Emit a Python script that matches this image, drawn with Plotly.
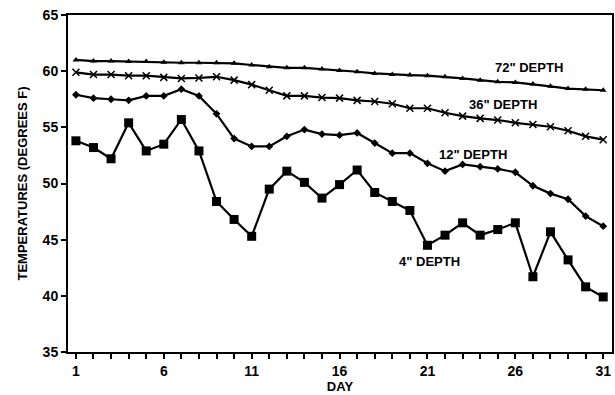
import plotly.graph_objects as go

days = list(range(1, 32))

depth_4 = [53.8, 53.2, 52.2, 55.4, 52.9, 53.5, 55.7, 52.9, 48.4, 46.8, 45.3, 49.5, 51.1, 50.1, 48.7, 49.9,
           51.2, 49.2, 48.4, 47.6, 44.5, 45.4, 46.5, 45.4, 45.9, 46.5, 41.7, 45.7, 43.2, 40.8, 39.9]
depth_12 = [57.9, 57.6, 57.5, 57.4, 57.8, 57.8, 58.4, 57.8, 56.2, 54.0, 53.3, 53.3, 54.2, 54.8, 54.4, 54.3,
            54.5, 53.6, 52.7, 52.7, 51.8, 51.1, 51.7, 51.5, 51.3, 51.0, 49.8, 49.1, 48.6, 47.1, 46.2]
depth_36 = [59.9, 59.7, 59.7, 59.6, 59.6, 59.45, 59.35, 59.4, 59.5, 59.2, 58.8, 58.3, 57.8, 57.8, 57.65, 57.6,
            57.4, 57.3, 57.1, 56.7, 56.7, 56.3, 56.0, 55.8, 55.65, 55.4, 55.25, 55.05, 54.7, 54.2, 53.9]
depth_72 = [61.0, 60.9, 60.9, 60.85, 60.85, 60.8, 60.75, 60.75, 60.75, 60.7, 60.55, 60.4, 60.3, 60.3, 60.2, 60.05,
            59.95, 59.8, 59.7, 59.65, 59.6, 59.5, 59.35, 59.2, 59.05, 59.0, 58.85, 58.65, 58.45, 58.4, 58.3]

labels = ['72" DEPTH', '36" DEPTH', '12" DEPTH', '4" DEPTH']
label_x = [26.8, 25.3, 23.6, 21.1]
label_y = [60.35, 57.0, 52.6, 43.1]

y_ticks = [35, 40, 45, 50, 55, 60, 65]
x_tick_text = [str(d) if (d - 1) % 5 == 0 else "" for d in days]

FONT = "Liberation Sans, Arial, sans-serif"

def bold(s):
    return "<b>" + s + "</b>"

fig = go.Figure()
fig.add_trace(go.Scatter(x=days, y=depth_72, mode="lines+markers",
                         line=dict(color="black", width=2.2),
                         marker=dict(symbol="triangle-up", size=6, color="black")))
fig.add_trace(go.Scatter(x=days, y=depth_36, mode="lines+markers",
                         line=dict(color="black", width=2.2),
                         marker=dict(symbol="x-thin-open", size=7, color="black",
                                     line=dict(color="black", width=1.5))))
fig.add_trace(go.Scatter(x=days, y=depth_12, mode="lines+markers",
                         line=dict(color="black", width=2.2),
                         marker=dict(symbol="diamond", size=6, color="black")))
fig.add_trace(go.Scatter(x=days, y=depth_4, mode="lines+markers",
                         line=dict(color="black", width=2.2),
                         marker=dict(symbol="square", size=9, color="black")))

for t, x, y in zip(labels, label_x, label_y):
    fig.add_annotation(x=x, y=y, text=bold(t), showarrow=False, xanchor="center", yanchor="middle",
                       font=dict(family=FONT, size=13, color="black"))

fig.update_layout(
    width=615, height=395,
    margin=dict(l=68, r=1, t=15, b=43),
    paper_bgcolor="white", plot_bgcolor="white",
    showlegend=False,
    font=dict(family=FONT, size=13, color="black"),
    xaxis=dict(range=[0.55, 31.5], tickvals=days, ticktext=[bold(t) if t else "" for t in x_tick_text],
               ticks="outside", ticklen=5, tickwidth=2, tickcolor="black",
               tickfont=dict(size=14),
               showline=True, linecolor="black", linewidth=2, mirror=True,
               showgrid=False, zeroline=False,
               title=dict(text=bold("DAY"), standoff=1, font=dict(size=13))),
    yaxis=dict(range=[35, 65], tickvals=y_ticks, ticktext=[bold(str(v)) for v in y_ticks],
               ticks="outside", ticklen=5, tickwidth=2, tickcolor="black",
               tickfont=dict(size=14),
               showline=True, linecolor="black", linewidth=2, mirror=True,
               showgrid=False, zeroline=False,
               title=dict(text=bold("TEMPERATURES (DEGREES F)"), standoff=12, font=dict(size=13))),
)

fig.write_html("out.html")
